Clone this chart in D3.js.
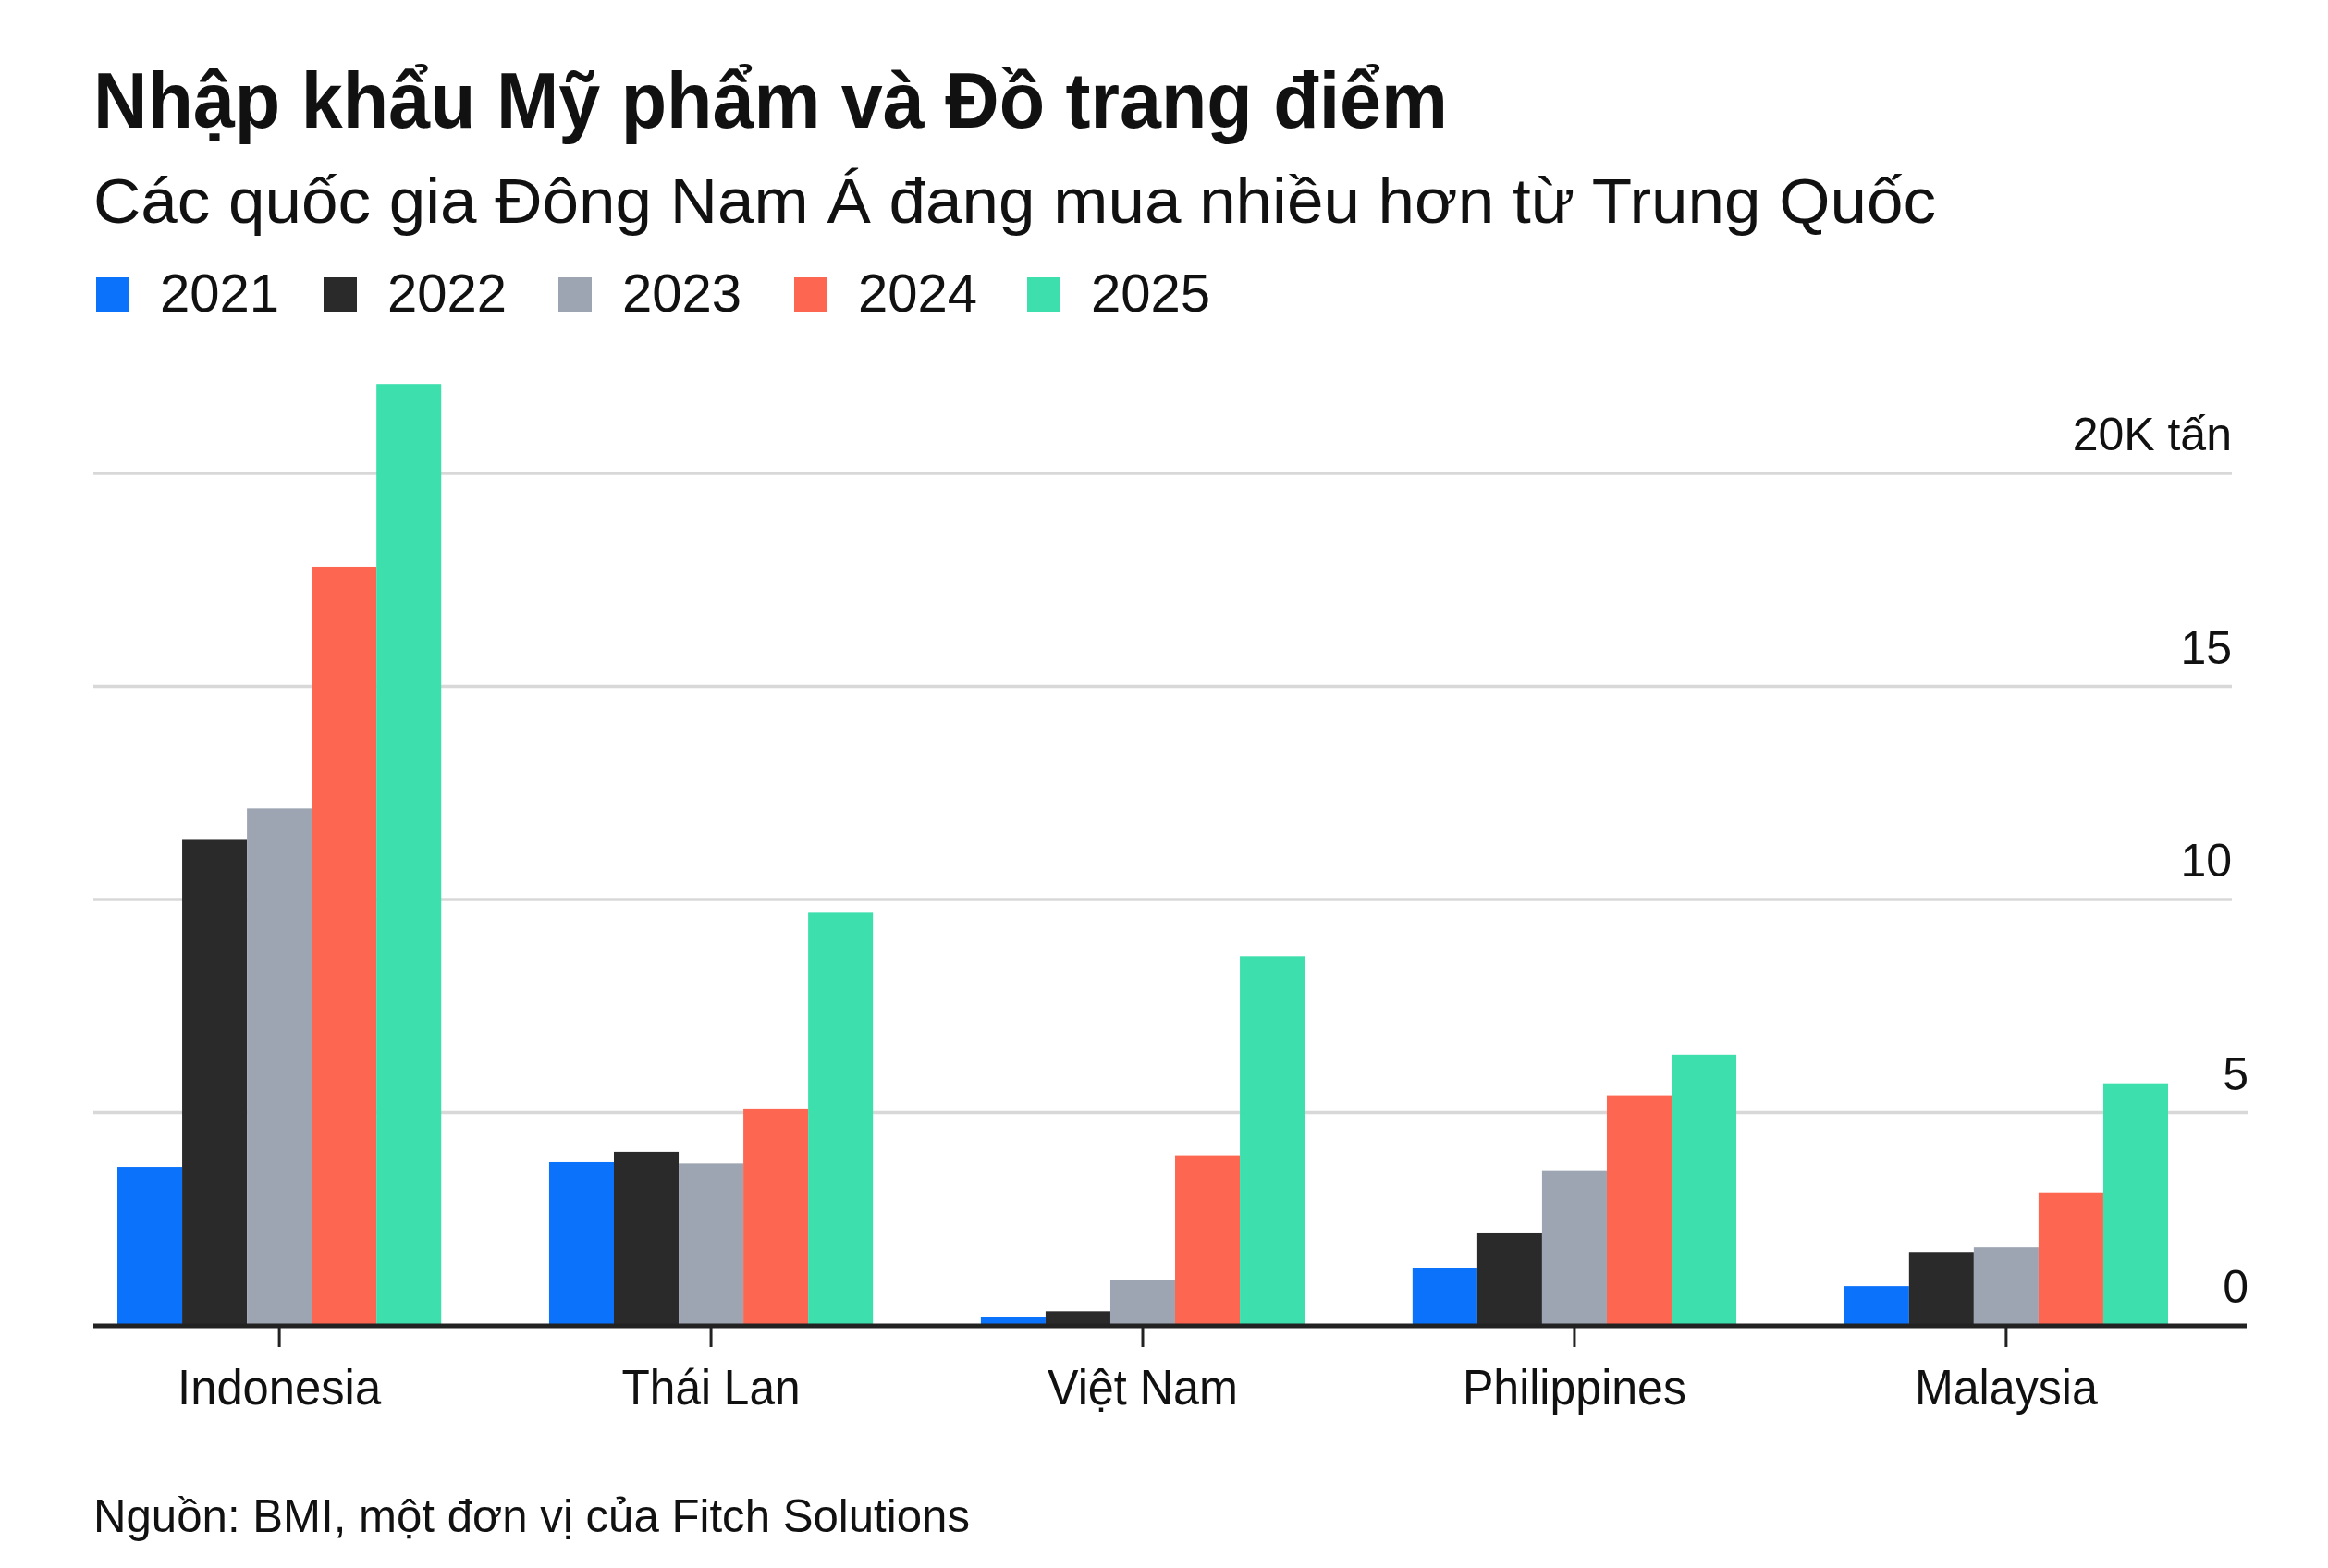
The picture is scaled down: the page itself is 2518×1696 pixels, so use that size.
<!DOCTYPE html>
<html>
<head>
<meta charset="utf-8">
<script src="https://cdn.jsdelivr.net/npm/d3@7"></script>
<style>
  html, body { margin: 0; padding: 0; background: #ffffff; }
  svg { display: block; }
  text { font-family: "Liberation Sans", Arial, Helvetica, sans-serif; fill: #111; }
</style>
</head>
<body>
<svg id="chart" width="2518" height="1696"></svg>
<script>
// ---- data ----
const categories = ["Indonesia", "Thái Lan", "Việt Nam", "Philippines", "Malaysia"];
const years = ["2021", "2022", "2023", "2024", "2025"];
const values2021 = [3.73, 3.84, 0.20, 1.36, 0.93];
const values2022 = [11.40, 4.08, 0.34, 2.17, 1.73];
const values2023 = [12.14, 3.81, 1.07, 3.63, 1.84];
const values2024 = [17.81, 5.10, 4.00, 5.41, 3.13];
const values2025 = [22.10, 9.71, 8.67, 6.36, 5.69];
const yTicks = [0, 5, 10, 15, 20];
const yTickLabels = ["0", "5", "10", "15", "20K tấn"];
const colors = ["#0b72fb", "#2a2a2a", "#9ea5b2", "#fd6651", "#3ddfac"];

const seriesValues = [values2021, values2022, values2023, values2024, values2025];

const titleText = "Nhập khẩu Mỹ phẩm và Đồ trang điểm";
const subtitleText = "Các quốc gia Đông Nam Á đang mua nhiều hơn từ Trung Quốc";
const sourceText = "Nguồn: BMI, một đơn vị của Fitch Solutions";

// ---- layout ----
const svg = d3.select("#chart");
svg.append("rect").attr("width", 2518).attr("height", 1696).attr("fill", "#fff");

const left = 101, gridRight = 2414, gridRightLow = 2432, axisRight = 2430;
const y = d3.scaleLinear().domain([0, 20]).range([1434, 512]);

const x = d3.scaleBand()
  .domain(categories)
  .range([left, 2371])
  .paddingInner(0.25)
  .paddingOuter(0.0557);

const xInner = d3.scaleBand()
  .domain(years)
  .range([0, x.bandwidth()])
  .padding(0);

function fit(sel, w) {
  sel.each(function () {
    const n = this.getComputedTextLength();
    if (Math.abs(n - w) > 2) {
      d3.select(this).attr("textLength", w).attr("lengthAdjust", "spacingAndGlyphs");
    }
  });
}

// title, subtitle
svg.append("text").attr("x", left).attr("y", 138)
  .attr("font-size", 86).attr("font-weight", 700).text(titleText).call(fit, 1465);
svg.append("text").attr("x", left).attr("y", 241)
  .attr("font-size", 69).text(subtitleText).call(fit, 1993);

// legend
const legendX = [104, 350, 604, 859, 1111];
const legend = svg.append("g");
years.forEach((yr, i) => {
  legend.append("rect").attr("x", legendX[i]).attr("y", 300)
    .attr("width", 36).attr("height", 37).attr("fill", colors[i]);
  legend.append("text").attr("x", legendX[i] + 69).attr("y", 337)
    .attr("font-size", 58).text(yr);
});

// gridlines + y labels
const grid = svg.append("g");
yTicks.forEach((t, i) => {
  const xr = t <= 5 ? gridRightLow : gridRight;
  if (t > 0) {
    grid.append("line").attr("x1", left).attr("x2", xr)
      .attr("y1", y(t)).attr("y2", y(t))
      .attr("stroke", "#d8d8d8").attr("stroke-width", 3.5);
  }
  grid.append("text").attr("x", xr).attr("y", y(t) - 25)
    .attr("text-anchor", "end").attr("font-size", 50).text(yTickLabels[i]);
});

// bars
const groups = svg.append("g").selectAll("g").data(categories).join("g")
  .attr("transform", d => `translate(${x(d)},0)`);
groups.selectAll("rect")
  .data((d, ci) => years.map((yr, si) => ({ yr, si, v: seriesValues[si][ci] })))
  .join("rect")
  .attr("x", d => xInner(d.yr))
  .attr("width", xInner.bandwidth())
  .attr("y", d => y(d.v))
  .attr("height", d => y(0) - y(d.v))
  .attr("fill", d => colors[d.si]);

// x axis baseline + ticks + labels
svg.append("line").attr("x1", left).attr("x2", axisRight)
  .attr("y1", y(0)).attr("y2", y(0))
  .attr("stroke", "#222").attr("stroke-width", 5);

const labelWidths = [220, 193, 206, 242, 198];
const xAxisG = svg.append("g");
categories.forEach((c, i) => {
  const cx = x(c) + x.bandwidth() / 2;
  xAxisG.append("line").attr("x1", cx).attr("x2", cx)
    .attr("y1", y(0)).attr("y2", y(0) + 23)
    .attr("stroke", "#222").attr("stroke-width", 3);
  xAxisG.append("text").attr("x", cx).attr("y", 1519)
    .attr("text-anchor", "middle").attr("font-size", 54).text(c)
    .call(fit, labelWidths[i]);
});

// source
svg.append("text").attr("x", left).attr("y", 1657)
  .attr("font-size", 50).text(sourceText).call(fit, 948);
</script>
</body>
</html>
